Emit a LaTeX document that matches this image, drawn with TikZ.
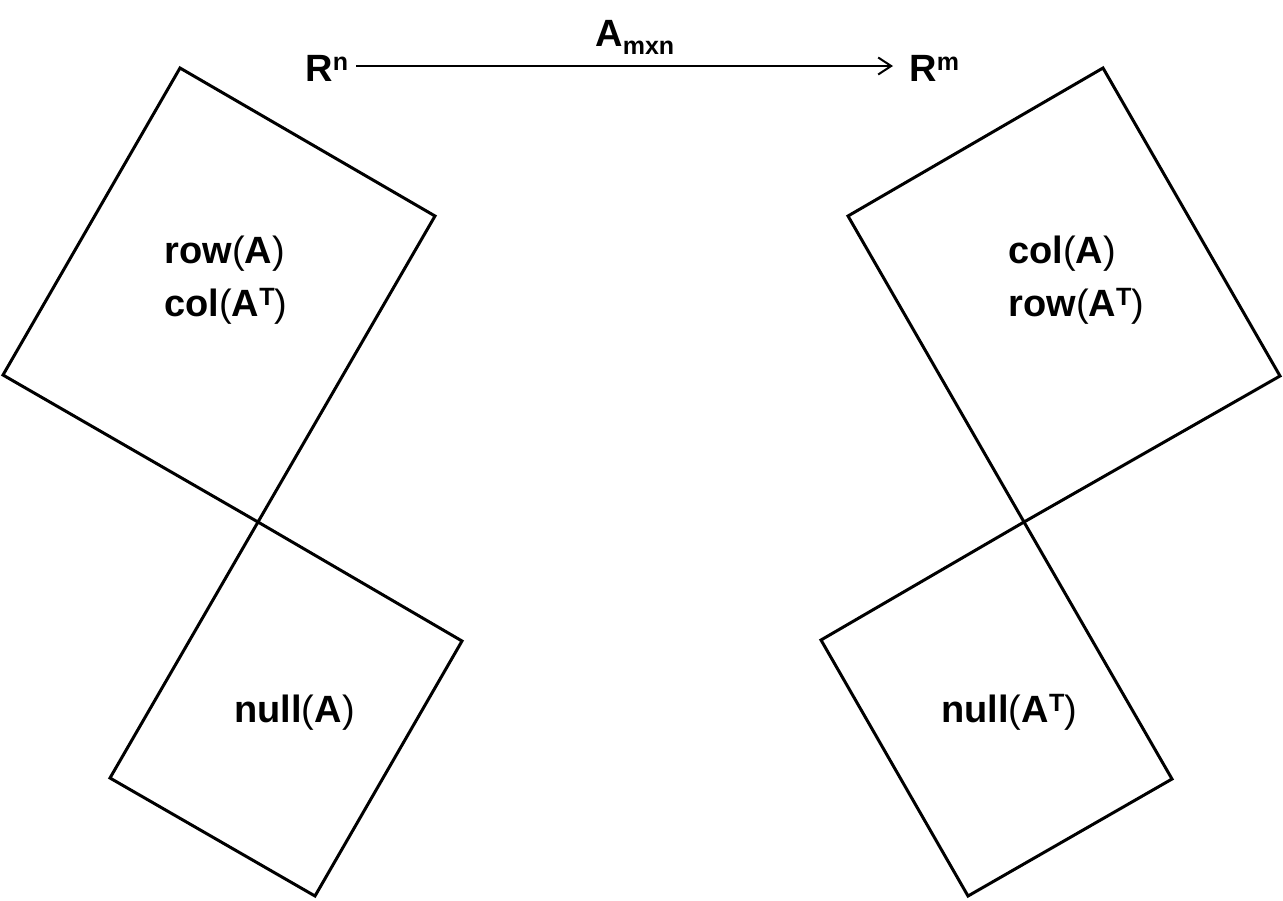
\documentclass[tikz,border=0pt]{standalone}
\usepackage{fontspec}
\setmainfont{Liberation Sans}
\usetikzlibrary{arrows.meta}
\newcommand{\bsup}[1]{\raisebox{0.27em}{\fontsize{12.5pt}{13pt}\selectfont\bfseries #1}}
\newcommand{\bsub}[1]{\raisebox{-0.22em}{\fontsize{12.5pt}{13pt}\selectfont\bfseries #1}}
\tikzset{
    lbl/.style = {inner sep=0pt, anchor=base west, font=\fontsize{19pt}{22pt}\selectfont},
    space/.style = {line width=1.5pt, line join=miter},
    map/.style = {-{Straight Barb[length=6.5pt, width=8.5pt, line width=1pt]}, line width=0.7pt}
}

\begin{document}
\begin{tikzpicture}[x=0.5pt, y=-0.5pt]
    \useasboundingbox (0,0) rectangle (1283,900);
    % left: domain
    \coordinate (lo) at (258,522);
    \draw[space] (180,68) -- (435,216) -- (lo) -- (3,375) -- cycle;
    \draw[space] (lo) -- (462,641) -- (315,896) -- (110,778) -- cycle;
    % right: codomain
    \coordinate (ro) at (1024,522);
    \draw[space] (1103,68) -- (1280,376) -- (ro) -- (848,216) -- cycle;
    \draw[space] (ro) -- (1172,779) -- (968,896) -- (821,640) -- cycle;
    % labels
    \node[lbl] (Rn) at (305,81) {\textbf{R}\bsup{n}};
    \node[lbl] (Rm) at (909,81) {\textbf{R}\bsup{m}};
    \node[lbl] (Amn) at (595,46) {\textbf{A}\bsub{mxn}};
    \coordinate (from) at (356,66);
    \coordinate (to) at (893,66);
    \draw[map] (from) -- (to);
    \node[lbl] (rowA) at (164,263) {\textbf{row}(\textbf{A})};
    \node[lbl] (colAT) at (164,316) {\textbf{col}(\textbf{A}\bsup{T})};
    \node[lbl] (nullA) at (234,722) {\textbf{null}(\textbf{A})};
    \node[lbl] (colA) at (1008,263) {\textbf{col}(\textbf{A})};
    \node[lbl] (rowAT) at (1008,316) {\textbf{row}(\textbf{A}\bsup{T})};
    \node[lbl] (nullAT) at (941,722) {\textbf{null}(\textbf{A}\bsup{T})};
\end{tikzpicture}
\end{document}
